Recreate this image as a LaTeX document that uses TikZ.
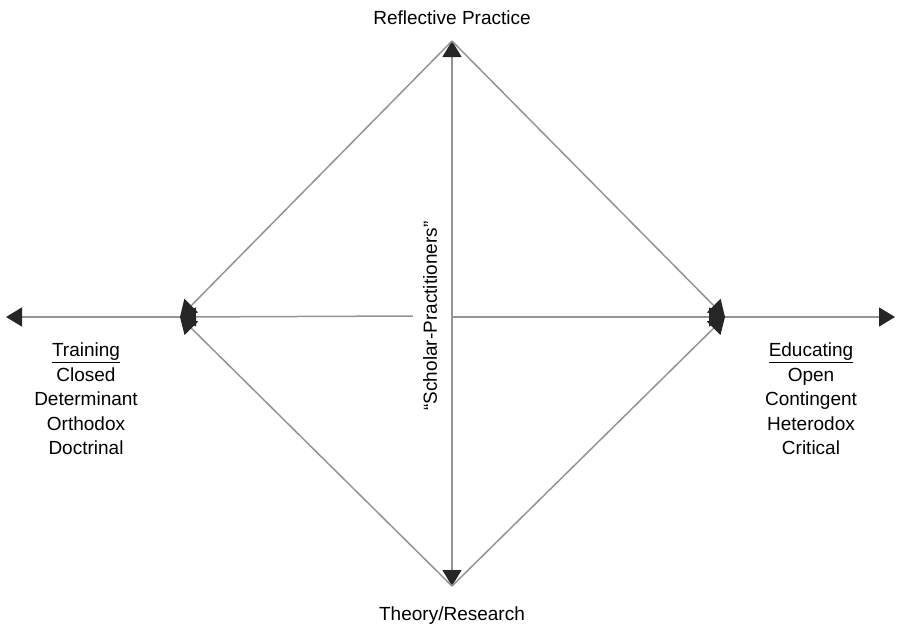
\documentclass[tikz,border=0pt]{standalone}
\usepackage{fontspec}
\setmainfont{Liberation Sans}
\usepackage{tikz}
\usetikzlibrary{positioning, arrows.meta}

\begin{document}
\begin{tikzpicture}[
  x=1pt, y=-1pt,
  font=\fontsize{19}{24.5}\selectfont,
  >={Triangle[length=16pt, width=19pt, color=black!85, fill=black!85]},
  txt/.style={align=center, inner sep=0pt},
  link/.style={draw=black!42, line width=1.5pt, ->},
  duo/.style={link, <->},
]
  \useasboundingbox (0,0) rectangle (897,632);

  % the four corners of the diamond
  \coordinate (top)    at (452,41);
  \coordinate (bottom) at (452,586);
  \coordinate (left)   at (180,317);
  \coordinate (right)  at (725,317);
  \coordinate (mid)    at (452,317);
  \coordinate (lend)   at (6,317);
  \coordinate (rend)   at (895,317);

  \node[txt, above=16pt of top]    (refl)   {Reflective Practice};
  \node[txt, below=21pt of bottom] (theory) {Theory/Research};
  \node[rotate=90, inner sep=0pt, inner ysep=10pt] (schol) at (430,316)
    {``Scholar-Practitioners''};

  \node[txt, anchor=north] (train) at (86,343)
    {\underline{Training}\\Closed\\Determinant\\Orthodox\\Doctrinal};
  \node[txt, anchor=north] (edu) at (811,343)
    {\underline{Educating}\\Open\\Contingent\\Heterodox\\Critical};

  \draw[duo]  (bottom) -- (top);
  \draw[link] (top) -- (left);
  \draw[link] (top) -- (right);
  \draw[link] (bottom) -- (left);
  \draw[link] (bottom) -- (right);
  \draw[link] (schol.north) -- (left);
  \draw[link] (mid) -- (right);
  \draw[link] (left) -- (lend);
  \draw[link] (right) -- (rend);
\end{tikzpicture}
\end{document}
